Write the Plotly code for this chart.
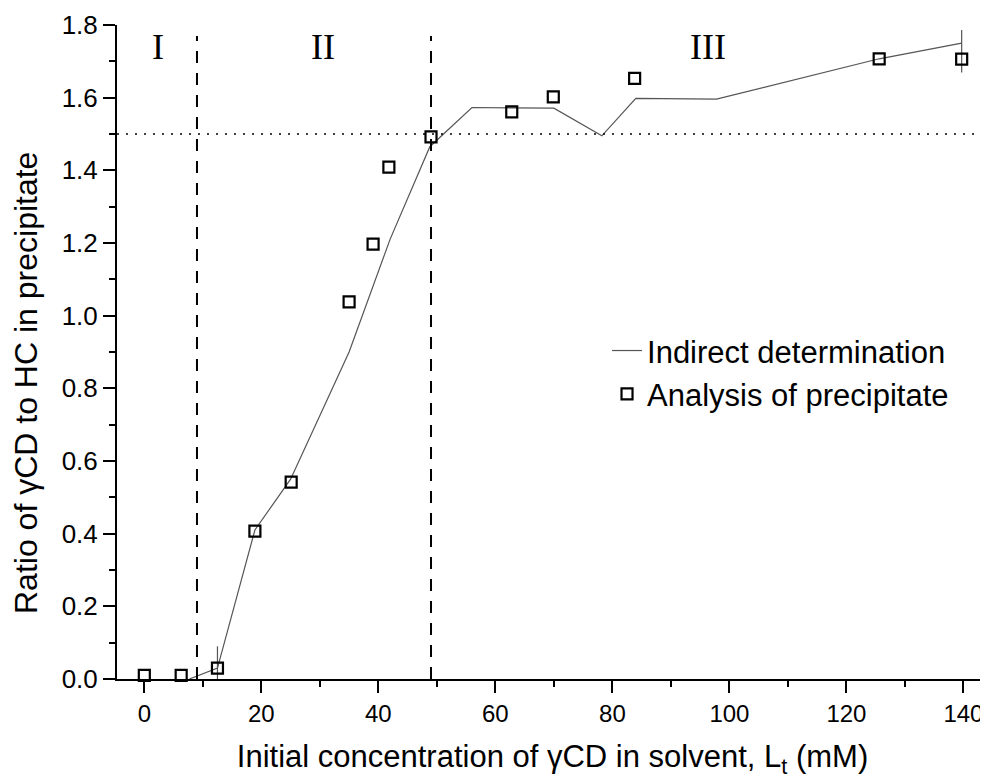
import plotly.graph_objects as go

# Indirect determination (line)
line_x = [7.7, 12.5, 18.9, 25.0, 35.0, 42.0, 48.8, 56.0, 70.0, 78.2, 84.0, 97.8, 125.6, 139.7]
line_y = [0.0, 0.03, 0.41, 0.55, 0.90, 1.21, 1.465, 1.573, 1.571, 1.495, 1.598, 1.596, 1.707, 1.750]
line_err_plus = [0, 0.06, 0, 0, 0, 0, 0, 0, 0, 0, 0, 0, 0, 0.036]
line_err_minus = [0, 0.06, 0, 0, 0, 0, 0, 0, 0, 0, 0, 0, 0, 0.081]

# Analysis of precipitate (open squares)
sq_x = [0, 6.3, 12.5, 18.9, 25.1, 35.0, 39.1, 41.8, 49.0, 62.8, 69.9, 83.8, 125.6, 139.7]
sq_y = [0.01, 0.01, 0.03, 0.407, 0.542, 1.038, 1.197, 1.409, 1.492, 1.561, 1.602, 1.653, 1.707, 1.706]

region_bounds = [9.0, 49.0]
region_labels = ["I", "II", "III"]
region_label_x = [2.4, 30.6, 96.4]
stoich_ratio = 1.5

SANS = "Liberation Sans, Arial, sans-serif"
SERIF = "Liberation Serif, Times New Roman, serif"

fig = go.Figure()
fig.add_trace(go.Scatter(
    x=line_x, y=line_y, mode="lines", name="Indirect determination",
    line=dict(color="#555555", width=1.2),
    error_y=dict(type="data", symmetric=False, array=line_err_plus, arrayminus=line_err_minus,
                 color="#555555", thickness=1.2, width=0),
    cliponaxis=False,
))
fig.add_trace(go.Scatter(
    x=sq_x, y=sq_y, mode="markers", name="Analysis of precipitate",
    marker=dict(symbol="square-open", size=11, color="black", line=dict(width=2.2, color="black")),
    cliponaxis=False,
))

for xb in region_bounds:
    fig.add_shape(type="line", xref="x", yref="y", x0=xb, x1=xb, y0=0, y1=1.77,
                  line=dict(color="black", width=2, dash="12px,10px"))
fig.add_shape(type="line", xref="paper", yref="y", x0=0, x1=1, y0=stoich_ratio, y1=stoich_ratio,
              line=dict(color="black", width=1.5, dash="2px,7px"))

for lab, lx in zip(region_labels, region_label_x):
    fig.add_annotation(x=lx, y=1.74, xref="x", yref="y", text=lab, showarrow=False,
                       font=dict(family=SERIF, size=36, color="black"))

# y title sits a bit below the centre of the axis in the original, so place it by hand
fig.add_annotation(x=0, y=0.4526, xref="paper", yref="paper", xshift=-91,
                   xanchor="center", yanchor="middle", textangle=-90, showarrow=False,
                   text="Ratio of γCD to HC in precipitate",
                   font=dict(family=SANS, size=32, color="black"))

fig.update_xaxes(
    range=[-4.67, 144.2], tickvals=[0, 20, 40, 60, 80, 100, 120, 140],
    showline=True, linecolor="black", linewidth=2, showgrid=False, zeroline=False,
    ticks="outside", ticklen=12, tickwidth=2, tickcolor="black",
    minor=dict(dtick=10, ticks="outside", ticklen=6, tickwidth=2, tickcolor="black", showgrid=False),
    tickfont=dict(family=SANS, size=24, color="black"),
    title=dict(text="Initial concentration of γCD in solvent, L<sub>t</sub> (mM)",
               font=dict(family=SANS, size=31, color="black"), standoff=20),
)
fig.update_yaxes(
    range=[0, 1.8], dtick=0.2, tick0=0, tickformat=".1f",
    showline=True, linecolor="black", linewidth=2, showgrid=False, zeroline=False,
    ticks="outside", ticklen=12, tickwidth=2, tickcolor="black",
    minor=dict(dtick=0.1, ticks="outside", ticklen=6, tickwidth=2, tickcolor="black", showgrid=False),
    tickfont=dict(family=SANS, size=26, color="black"),
)

# the page body has an 8px margin, so the figure is sized to fit the window
fig.update_layout(
    width=980, height=773,
    margin=dict(l=109, r=0, t=17, b=102, autoexpand=False),
    plot_bgcolor="white", paper_bgcolor="white",
    showlegend=True,
    legend=dict(x=0.5626, y=0.543, xanchor="left", yanchor="top", bgcolor="rgba(0,0,0,0)",
                font=dict(family=SANS, size=31, color="black"), tracegroupgap=0),
)

fig.write_html("out.html")
